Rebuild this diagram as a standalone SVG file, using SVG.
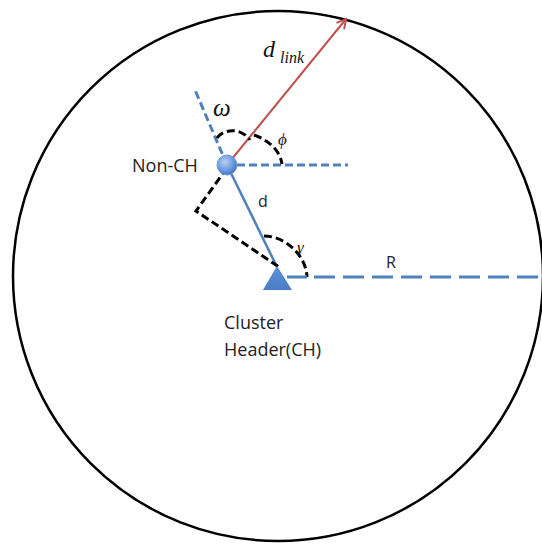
<svg xmlns="http://www.w3.org/2000/svg" width="542" height="546" viewBox="0 0 542 546">
<style>
.lbl{font-family:"Open Sans","Liberation Sans",sans-serif;fill:#222}
.math{font-family:"Liberation Serif","DejaVu Serif",serif;font-style:italic;fill:#111}
.bdash{stroke:#4f81bd;stroke-width:3;fill:none;stroke-dasharray:8 4}
.kdash{stroke:#000;stroke-width:3;fill:none;stroke-dasharray:8 4}
</style>
<defs>
<radialGradient id="nodeGrad" cx="0.4" cy="0.35" r="0.7">
<stop offset="0" stop-color="#b9cff0"/>
<stop offset="0.6" stop-color="#6b9ae0"/>
<stop offset="1" stop-color="#3d6fbf"/>
</radialGradient>
<linearGradient id="triGrad" x1="0" y1="0" x2="0" y2="1">
<stop offset="0" stop-color="#5b8fd6"/>
<stop offset="1" stop-color="#4a7fc8"/>
</linearGradient>
<marker id="arrow" viewBox="0 0 12 12" refX="10" refY="6" markerWidth="12" markerHeight="12" markerUnits="userSpaceOnUse" orient="auto">
<polyline points="1,1 10,6 1,11" fill="none" stroke="#c0504d" stroke-width="2"/>
</marker>
</defs>
<ellipse id="boundary" cx="278" cy="276" rx="265" ry="265" fill="none" stroke="#000" stroke-width="2.5"/>
<g id="connectors">
<line x1="227" y1="165" x2="195" y2="90" class="bdash"/>
<line x1="237" y1="165" x2="348" y2="165" class="bdash"/>
<line x1="227" y1="165" x2="277" y2="267" stroke="#4f81bd" stroke-width="2.5"/>
<line x1="227" y1="165" x2="346" y2="19" stroke="#c0504d" stroke-width="2" marker-end="url(#arrow)"/>
<polyline points="227,168 196,211 279,267" class="kdash"/>
<path d="M217,138 C222,130 240,126 250,140" class="kdash" stroke-width="2.5"/>
<path d="M254,135 C268,140 280,150 282,164" class="kdash" stroke-width="2.5" stroke-dasharray="10 6 2 6"/>
<path d="M264,236 C285,236 306,255 307,277" class="kdash" stroke-width="2.5" stroke-dasharray="9 7 2 7"/>
<line x1="287" y1="277" x2="307" y2="277" stroke="#4f81bd" stroke-width="3"/>
<line x1="314" y1="277" x2="542" y2="277" stroke="#4f81bd" stroke-width="3" stroke-dasharray="21 8"/>
</g>
<g id="nonch">
<circle cx="227" cy="165" r="10" fill="url(#nodeGrad)" stroke="#6f9ad6" stroke-width="1"/>
<text x="132" y="172" class="lbl" font-size="18">Non-CH</text>
</g>
<g id="ch">
<polygon points="277,266 263,290 292,290" fill="url(#triGrad)"/>
<text x="224" y="329" class="lbl" font-size="18">Cluster</text>
<text x="224" y="356" class="lbl" font-size="18">Header(CH)</text>
</g>
<g id="labels">
<text x="258" y="207" class="lbl" font-size="16">d</text>
<text x="386" y="268" class="lbl" font-size="16">R</text>
<text x="263" y="57" class="math" font-size="24">d</text>
<text x="280" y="63" class="math" font-size="16">link</text>
<text x="213" y="116" class="math" font-size="25">ω</text>
<text x="278" y="145" class="math" font-size="17">ϕ</text>
<text x="297" y="253" class="math" font-size="17">γ</text>
</g>
</svg>
